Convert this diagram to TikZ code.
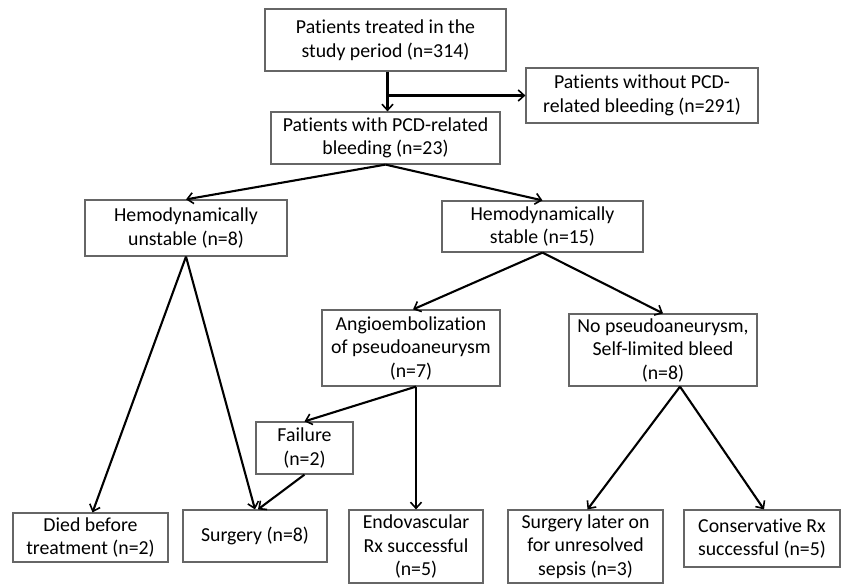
\documentclass[tikz,border=0pt]{standalone}
\usepackage{fontspec}
\setmainfont{Carlito}[Ligatures=CommonOff]
\usetikzlibrary{arrows.meta}
\begin{document}
\begin{tikzpicture}[x=1pt,y=-1pt,
  box/.style={draw=black!60,line width=1.2pt,fill=white,inner sep=0pt,align=center,
    font=\fontsize{19.8}{23.5}\selectfont},
  arr/.style={line width=2.1pt,-{Straight Barb[length=6pt,width=11pt,line width=1.6pt]}}]
\fill[white] (0,0) rectangle (846,584);
\useasboundingbox (0,0) rectangle (846,584);

\node[box,minimum width=241pt,minimum height=62pt] (top) at (385.5,40) {Patients treated in the\\study period (n=314)};
\node[box,minimum width=232pt,minimum height=55pt] (without) at (642,95.5) {Patients without PCD-\\related bleeding (n=291)};
\node[box,minimum width=229pt,minimum height=52pt] (pcd) at (385.5,138) {Patients with PCD-related\\bleeding (n=23)};
\node[box,minimum width=202pt,minimum height=56pt] (unstable) at (186,228) {Hemodynamically\\unstable (n=8)};
\node[box,minimum width=201pt,minimum height=51pt] (stable) at (542.5,226.5) {Hemodynamically\\stable (n=15)};
\node[box,minimum width=178pt,minimum height=76pt] (angio) at (411,348) {Angioembolization\\of pseudoaneurysm\\(n=7)};
\node[box,minimum width=188pt,minimum height=72pt] (nopseudo) at (663,350) {No pseudoaneurysm,\\Self-limited bleed\\(n=8)};
\node[box,minimum width=97pt,minimum height=52pt] (failure) at (304.5,448) {Failure\\(n=2)};
\node[box,minimum width=155pt,minimum height=49pt] (died) at (90.5,537.5) {Died before\\treatment (n=2)};
\node[box,minimum width=144pt,minimum height=52pt] (surgery) at (255,536) {Surgery (n=8)};
\node[box,minimum width=134pt,minimum height=73pt] (endo) at (416,546.5) {Endovascular\\Rx successful\\(n=5)};
\node[box,minimum width=155pt,minimum height=73pt] (later) at (585.5,546.5) {Surgery later on\\for unresolved\\sepsis (n=3)};
\node[box,minimum width=156pt,minimum height=57pt] (cons) at (762,538.5) {Conservative Rx\\successful (n=5)};

\coordinate (branch) at ([xshift=2pt]top.south |- without.west);
\draw[arr] ([xshift=2pt]top.south) -- ([xshift=2pt]pcd.north);
\draw[arr] (branch) -- (without.west);
\draw[arr] (pcd.south) -- (unstable.north);
\draw[arr] (pcd.south) -- (stable.north);
\draw[arr] (unstable.south) -- ([xshift=2pt]died.north);
\draw[arr] (unstable.south) -- (surgery.north);
\draw[arr] (stable.south) -- ([xshift=2pt]angio.north);
\draw[arr] (stable.south) -- (nopseudo.north);
\draw[arr] ([xshift=5pt]angio.south) -- (failure.north);
\draw[arr] ([xshift=5pt]angio.south) -- (endo.north);
\draw[arr] (failure.south) -- ([xshift=3pt]surgery.north);
\draw[arr] ([xshift=17pt]nopseudo.south) -- ([xshift=2pt]later.north);
\draw[arr] ([xshift=17pt]nopseudo.south) -- ([xshift=2pt]cons.north);
\end{tikzpicture}
\end{document}
